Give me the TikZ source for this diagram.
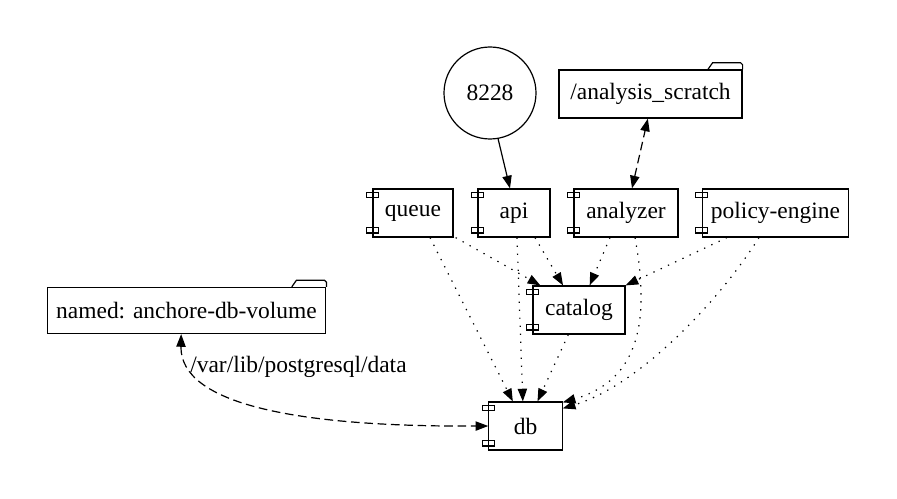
\documentclass[tikz,border=0pt]{standalone}
\usepackage{fontspec}
\setmainfont{Liberation Serif}
\usepackage{tikz}
\usetikzlibrary{arrows.meta,calc}

\begin{document}
\begin{tikzpicture}[
    x=0.75pt, y=-0.75pt,
    font=\fontsize{17.6}{20}\selectfont,
    comp/.style={rectangle, draw, line width=0.9pt, minimum height=36pt, inner sep=0pt,
      append after command={\pgfextra{
        \draw[line width=0.9pt, fill=white] ([xshift=-4.5pt,yshift=-3pt]\tikzlastnode.north west) rectangle ++(9pt,-4pt);
        \draw[line width=0.9pt, fill=white] ([xshift=-4.5pt,yshift=3.5pt]\tikzlastnode.south west) rectangle ++(9pt,4pt);
      }}},
    folder/.style={rectangle, draw, line width=0.9pt, minimum height=36pt, inner sep=0pt,
      append after command={\pgfextra{
        \draw[line width=0.9pt] ([xshift=-26pt]\tikzlastnode.north east) -- ++(3.5pt,5pt) -- ++(21pt,0pt) -- ++(1.5pt,-1.5pt) -- (\tikzlastnode.north east);
      }}},
    port/.style={circle, draw, line width=0.9pt, minimum size=69pt, inner sep=0pt},
    lnk/.style={-{Triangle[length=9.5pt,width=7pt]}, line width=0.9pt},
    dep/.style={-{Triangle[length=9.5pt,width=7pt]}, line width=0.9pt, dash pattern=on 1pt off 5pt},
    mnt/.style={{Triangle[length=9.5pt,width=7pt]}-{Triangle[length=9.5pt,width=7pt]}, line width=0.9pt, dash pattern=on 6.5pt off 3.5pt}
]
    \useasboundingbox (0,0) rectangle (897,499);

    \node [port] (p8228) at (490,93) {8228};
    \node [folder, minimum width=137.25pt] (scratch) at (650.5,94) {/analysis\_scratch};
    \node [comp, minimum width=60pt] (queue) at (413,213) {queue};
    \node [comp, minimum width=54pt] (api) at (514,213) {api};
    \node [comp, minimum width=78pt] (analyzer) at (626,213) {analyzer};
    \node [comp, minimum width=110pt] (policy) at (775.5,213) {policy-engine};
    \node [comp, minimum width=69pt] (catalog) at (579,310) {catalog};
    \node [folder, minimum width=209pt, minimum height=34.5pt] (volume) at (186.5,310.5) {named: anchore-db-volume};
    \node [comp, minimum width=55pt] (db) at (525.5,426) {db};
    \node [anchor=west, inner sep=0pt] (mountlbl) at (190,367) {/var/lib/postgresql/data};

    \draw [lnk] (p8228.-80) -- ([xshift=-3pt]api.north);
    \draw [mnt] ([xshift=4.5pt]analyzer.north) -- ([xshift=-2pt]scratch.south);

    \draw [dep] ([xshift=1.5pt]queue.south east) -- ([xshift=-29pt]catalog.north);
    \draw [dep] ([xshift=12.75pt]queue.south) -- ([xshift=-9.5pt]db.north);
    \draw [dep] ([xshift=15.75pt]api.south) -- ([xshift=-12pt]catalog.north);
    \draw [dep] ([xshift=2.25pt]api.south) -- ([xshift=-2pt]db.north);
    \draw [dep] ([xshift=-12pt]analyzer.south) -- ([xshift=8pt]catalog.north);
    \draw [dep] ([xshift=6.75pt]analyzer.south) .. controls (650,320) and (640,380) .. ([yshift=-0.75pt]db.north east);
    \draw [dep] ([xshift=-36.4pt]policy.south) -- (catalog.north east);
    \draw [dep] ([xshift=-12.4pt]policy.south) .. controls (720,300) and (640,385) .. ([yshift=-5.25pt]db.north east);
    \draw [dep] ([xshift=-8pt]catalog.south) -- ([xshift=9pt]db.north);

    \draw [mnt] ([xshift=-4pt]volume.south) .. controls (180,405) and (300,427) .. (db.west);
\end{tikzpicture}
\end{document}
